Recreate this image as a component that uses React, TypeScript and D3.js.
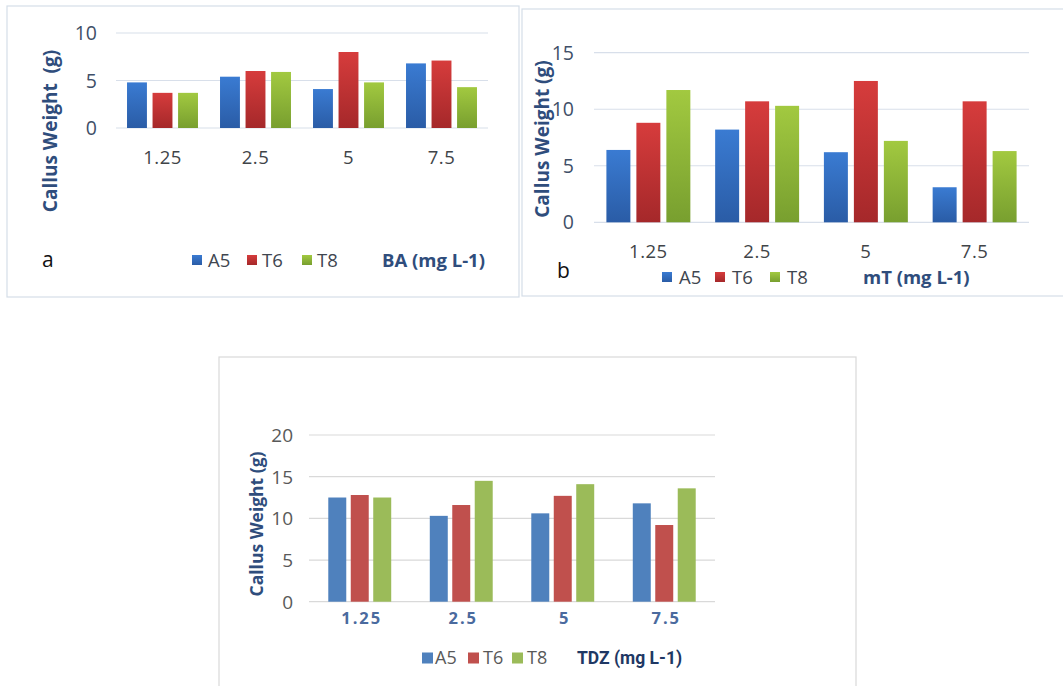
import React from 'react';
import * as d3 from 'd3';

// concentrations (mg L-1) on the x axis
const categories = ['1.25', '2.5', '5', '7.5'];
const seriesNames = ['A5', 'T6', 'T8'];

// a: BA
const baA5 = [4.8, 5.4, 4.1, 6.8];
const baT6 = [3.7, 6.0, 8.0, 7.1];
const baT8 = [3.7, 5.9, 4.8, 4.3];
const baTicks = [0, 5, 10];

// b: mT
const mtA5 = [6.4, 8.2, 6.2, 3.1];
const mtT6 = [8.8, 10.7, 12.5, 10.7];
const mtT8 = [11.7, 10.3, 7.2, 6.3];
const mtTicks = [0, 5, 10, 15];

// c: TDZ
const tdzA5 = [12.5, 10.3, 10.6, 11.8];
const tdzT6 = [12.8, 11.6, 12.7, 9.2];
const tdzT8 = [12.5, 14.5, 14.1, 13.6];
const tdzTicks = [0, 5, 10, 15, 20];

const FONT = '"Open Sans", "DejaVu Sans", sans-serif';

type PanelProps = {
  values: number[][];
  ticks: number[];
  yTitle: string;
  xTitle: string;
  letter?: string;
  frame: [number, number, number, number];
  frameColor: string;
  plot: { x0: number; x1: number; y0: number; y1: number };
  groupPad: number;
  barPad: number;
  fills: string[];
  tickColor: string;
  tickSize: number;
  tickEnd: number;
  catStyle: React.CSSProperties & { fill?: string };
  catY: number;
  catShift?: number;
  titleX: number;
  titleY: number;
  titleSize: number;
  legend: { y: number; squares: number[]; texts: number[]; size: number; titleX: number };
  legendTextColor: string;
  legendTextSize: number;
  xTitleStyle: { size: number; color: string; family: string; weight: number };
  letterPos?: [number, number];
  gridColor: string;
};

const Panel = (p: PanelProps) => {
  const x0 = d3.scaleBand<string>()
    .domain(categories)
    .range([p.plot.x0, p.plot.x1])
    .paddingInner(p.groupPad)
    .paddingOuter(p.groupPad / 2);
  const x1 = d3.scaleBand<string>()
    .domain(seriesNames)
    .range([0, x0.bandwidth()])
    .paddingInner(p.barPad);
  const y = d3.scaleLinear()
    .domain([0, p.ticks[p.ticks.length - 1]])
    .range([p.plot.y0, p.plot.y1]);

  const [fx, fy, fw, fh] = p.frame;

  return (
    <g>
      <rect x={fx} y={fy} width={fw} height={fh} fill="#fff" stroke={p.frameColor} strokeWidth={1.2} />

      {/* gridlines */}
      {p.ticks.map(t => (
        <line key={'g' + t} x1={p.plot.x0} x2={p.plot.x1} y1={y(t)} y2={y(t)}
          stroke={p.gridColor} strokeWidth={1.2} />
      ))}

      {/* y tick labels */}
      {p.ticks.map(t => (
        <text key={'t' + t} x={p.tickEnd} y={y(t)} dy="0.36em" textAnchor="end"
          fontFamily={FONT} fontSize={p.tickSize} fill={p.tickColor}>{t}</text>
      ))}

      {/* bars */}
      {categories.map((c, i) => (
        <g key={c} transform={`translate(${x0(c)},0)`}>
          {seriesNames.map((s, j) => (
            <rect key={s} x={x1(s)} width={x1.bandwidth()}
              y={y(p.values[j][i])} height={y(0) - y(p.values[j][i])}
              fill={p.fills[j]} />
          ))}
        </g>
      ))}

      {/* category labels */}
      {categories.map(c => (
        <text key={'c' + c} x={(x0(c) as number) + x0.bandwidth() / 2 + (p.catShift || 0)} y={p.catY}
          textAnchor="middle" style={p.catStyle}>{c}</text>
      ))}

      {/* y title */}
      <text transform={`translate(${p.titleX},${p.titleY}) rotate(-90)`} textAnchor="middle"
        dy="0.35em" fontFamily={FONT} fontWeight={700} fontSize={p.titleSize} fill="#2f4d7c"
        style={{ whiteSpace: 'pre' }}>{p.yTitle}</text>

      {/* legend */}
      {seriesNames.map((s, j) => (
        <g key={'l' + s}>
          <rect x={p.legend.squares[j]} y={p.legend.y - p.legend.size / 2}
            width={p.legend.size} height={p.legend.size} fill={p.fills[j]} />
          <text x={p.legend.texts[j]} y={p.legend.y} dy="0.36em" fontFamily={FONT}
            fontSize={p.legendTextSize} fill={p.legendTextColor}>{s}</text>
        </g>
      ))}
      <text x={p.legend.titleX} y={p.legend.y} dy="0.36em" fontFamily={p.xTitleStyle.family}
        fontWeight={p.xTitleStyle.weight} fontSize={p.xTitleStyle.size}
        fill={p.xTitleStyle.color}>{p.xTitle}</text>

      {p.letter && p.letterPos && (
        <text x={p.letterPos[0]} y={p.letterPos[1]} fontFamily={FONT} fontSize={21}
          fill="#111">{p.letter}</text>
      )}
    </g>
  );
};

const gradFills = ['url(#gBlue)', 'url(#gRed)', 'url(#gGreen)'];
const flatFills = ['#4f81bd', '#c0504d', '#9bbb59'];

const App = () => {
  return (
    <svg width={1063} height={686} style={{ position: 'absolute', left: 0, top: 0, background: '#fff' }}>
      <defs>
        <linearGradient id="gBlue" x1="0" y1="0" x2="0" y2="1">
          <stop offset="0" stopColor="#3a7bd2" />
          <stop offset="1" stopColor="#2a5ca6" />
        </linearGradient>
        <linearGradient id="gRed" x1="0" y1="0" x2="0" y2="1">
          <stop offset="0" stopColor="#d63c3c" />
          <stop offset="1" stopColor="#a5282a" />
        </linearGradient>
        <linearGradient id="gGreen" x1="0" y1="0" x2="0" y2="1">
          <stop offset="0" stopColor="#a2c940" />
          <stop offset="1" stopColor="#789f2f" />
        </linearGradient>
      </defs>
      <rect width={1063} height={686} fill="#fff" />

      <Panel
        values={[baA5, baT6, baT8]}
        ticks={baTicks}
        yTitle="Callus Weight  (g)"
        xTitle="BA (mg L-1)"
        letter="a"
        letterPos={[42, 267]}
        frame={[7, 6, 512, 291]}
        frameColor="#d5dee8"
        plot={{ x0: 116, x1: 488, y0: 128, y1: 33 }}
        groupPad={0.237}
        barPad={0.22}
        fills={gradFills}
        tickColor="#3f4f68"
        tickSize={19.5}
        tickEnd={97}
        catStyle={{ fontFamily: FONT, fontSize: 18.5, fill: '#404448', letterSpacing: '0.5px' }}
        catY={164}
        titleX={50}
        titleY={131}
        titleSize={19}
        legend={{ y: 260, squares: [192, 247, 302], texts: [208, 262, 317], size: 10, titleX: 382 }}
        legendTextColor="#404650"
        legendTextSize={18.5}
        xTitleStyle={{ size: 18.5, color: '#2f4d7c', family: FONT, weight: 700 }}
        gridColor="#d8dfea"
      />

      <Panel
        values={[mtA5, mtT6, mtT8]}
        ticks={mtTicks}
        yTitle="Callus Weight (g)"
        xTitle="mT (mg L-1)"
        letter="b"
        letterPos={[557, 278]}
        frame={[522, 9, 560, 287]}
        frameColor="#d5dee8"
        plot={{ x0: 594, x1: 1029, y0: 222.3, y1: 52.7 }}
        groupPad={0.228}
        barPad={0.2}
        fills={gradFills}
        tickColor="#3f4f68"
        tickSize={19.5}
        tickEnd={574}
        catStyle={{ fontFamily: FONT, fontSize: 18.5, fill: '#404448', letterSpacing: '0.5px' }}
        catY={258}
        titleX={542}
        titleY={139}
        titleSize={19}
        legend={{ y: 277, squares: [662, 715, 770], texts: [679, 732, 787], size: 10, titleX: 863 }}
        legendTextColor="#404650"
        legendTextSize={18.5}
        xTitleStyle={{ size: 18.5, color: '#2f4d7c', family: FONT, weight: 700 }}
        gridColor="#d8dfea"
      />

      <Panel
        values={[tdzA5, tdzT6, tdzT8]}
        ticks={tdzTicks}
        yTitle="Callus Weight (g)"
        xTitle="TDZ (mg L-1)"
        frame={[219, 357, 637, 340]}
        frameColor="#d9d9d9"
        plot={{ x0: 309, x1: 715, y0: 601.7, y1: 435 }}
        groupPad={0.38}
        barPad={0.2}
        fills={flatFills}
        tickColor="#595959"
        tickSize={19}
        tickEnd={293}
        catStyle={{ fontFamily: FONT, fontSize: 16.5, fontWeight: 700, fill: '#4a6a9e', letterSpacing: '2px' }}
        catY={624}
        catShift={2}
        titleX={257}
        titleY={524}
        titleSize={17.5}
        legend={{ y: 658, squares: [422, 468, 512], texts: [435, 483, 527], size: 11, titleX: 577 }}
        legendTextColor="#595959"
        legendTextSize={18}
        xTitleStyle={{ size: 17.5, color: '#1f3864', family: 'Roboto, "Open Sans", sans-serif', weight: 700 }}
        gridColor="#d9d9d9"
      />
    </svg>
  );
};

export default App;
